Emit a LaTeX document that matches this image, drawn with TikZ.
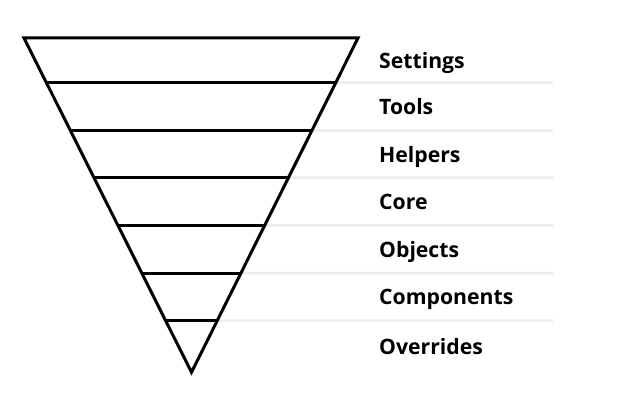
\documentclass[tikz,border=0pt]{standalone}
\usepackage{fontspec}
\setsansfont{Open Sans}[Ligatures=NoCommon]
\usetikzlibrary{calc}

\begin{document}
\begin{tikzpicture}[
	x=1pt, y=-1pt,
	edge/.style = {draw=black, line width=3pt, line join=miter},
	band/.style = {draw=black, line width=3pt},
	guide/.style = {draw=black!7, line width=2.5pt},
	layer/.style = {font=\sffamily\bfseries\fontsize{21.2}{24}\selectfont, anchor=base west, inner sep=0pt},
]
\useasboundingbox (0,0) rectangle (620,409);
\coordinate (topleft) at (24,38);
\coordinate (topright) at (358,38);
\coordinate (apex) at (191.5,372.3);

% guide lines to the right
\foreach \y in {82.7,130.5,177.5,225.3,273,320.5}
	\draw[guide] ($(topright)!{(\y-38)/334.3}!(apex)$) -- (553,\y);

% bands inside the triangle
\foreach \y in {82.7,130.5,177.5,225.3,273,320.5}
	\draw[band] ($(topleft)!{(\y-38)/334.3}!(apex)$) -- ($(topright)!{(\y-38)/334.3}!(apex)$);

\draw[edge] (topleft) -- (topright) -- (apex) -- cycle;

% layer names
\foreach \name/\txt/\y in {settings/Settings/60.4, tools/Tools/106.6, helpers/Helpers/154,
	core/Core/201.4, objects/Objects/249.2, components/Components/296.8, overrides/Overrides/346.4}
	\node[layer] (\name) at (379,\y+8) {\txt};

\end{tikzpicture}
\end{document}
